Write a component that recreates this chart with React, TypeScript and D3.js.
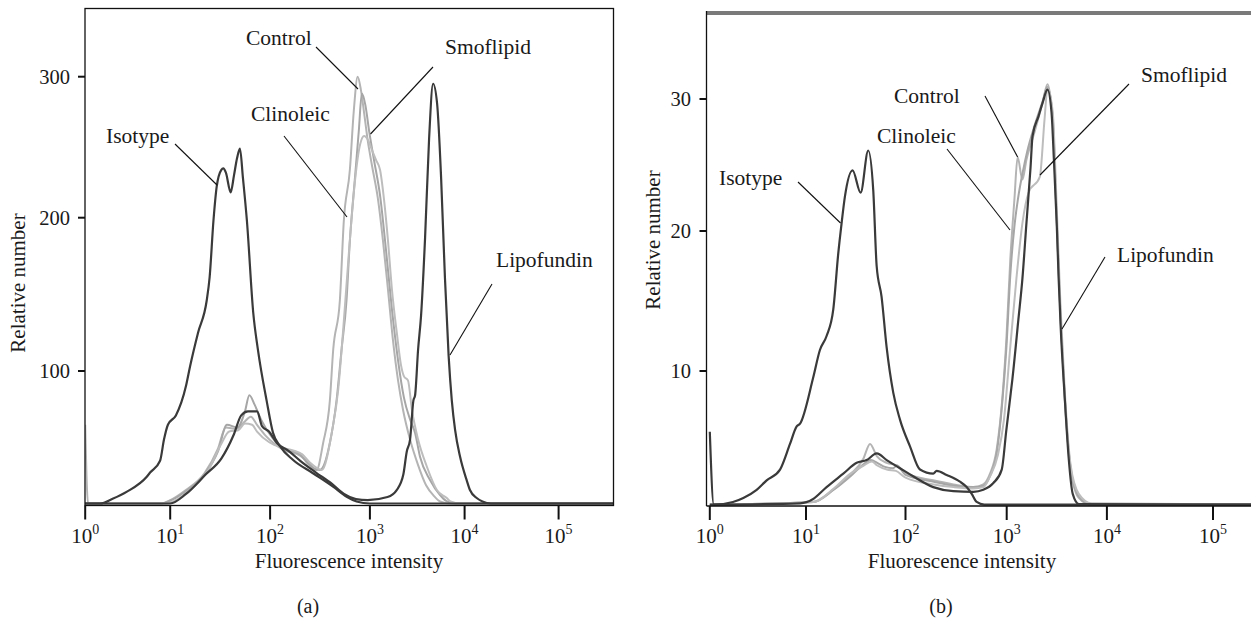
import React from "react";
import * as d3 from "d3";

type P = [number, number];

// ---------- Panel (a) data: [fluorescence intensity, relative number] ----------
const aIsotype: P[] = [[1,1.5],[1.5,1.5],[2.1,5],[3.1,10.3],[5.3,21.4],[5.8,24.5],[7.6,33.3],[8.45,49],[9.4,60],[11.4,67],[14.4,89],[15.8,103],[19,125],[23.2,146],[24.8,161],[27.1,198],[29.2,222],[32.5,234],[34,235],[36.1,232],[40.3,218],[43.5,230],[46.6,242],[49.9,249],[53.5,228],[58.6,198],[67.8,138],[75.5,114],[92.3,78],[107,54],[126,44],[169,34],[269,24],[427,14],[585,6.5],[736,3],[1000,1.5],[380000,1.5]];
const aLipofundin: P[] = [[1,1.5],[10,1.5],[14.4,8.6],[22.6,23],[32.6,35],[42.9,52],[51.4,67],[60,70],[74,70],[83,59],[97.5,55],[117,46.5],[154,40.5],[202,33],[288,24.5],[417,16],[550,8.6],[724,4.8],[950,4],[1535,6.3],[1918,11.5],[2254,23],[2449,40],[2655,49],[2878,78],[3000,82],[3228,114],[3468,136],[3826,187],[4217,256],[4648,295],[5124,281],[5651,228],[6198,161],[6780,110],[7328,78],[7943,56],[8974,36],[10500,19],[11400,11.5],[13450,5.6],[15500,3],[19000,1.5],[380000,1.5]];
const aControl: P[] = [[1,60],[1.08,1.5],[8,1.5],[10,4],[14,11],[22,24],[30,42],[36,58],[46,57],[55,62],[64,66],[74,60],[90,52],[110,46],[140,41],[200,37],[240,32],[292,26.4],[340,46.5],[397,78],[429,114],[500,146],[548,198],[630,234],[690,276],[754,300],[811,291],[869,276],[950,255],[1052,237],[1218,213],[1374,185],[1552,153],[1753,120],[1982,93],[2240,71],[2655,49],[3228,30],[3920,15],[4762,7],[5508,3],[7000,1.5],[380000,1.5]];
const aClinoleic: P[] = [[1,1.5],[8,1.5],[10,3.5],[14,10],[22,23],[30,40],[37,60],[47,58],[56,70],[62,82],[70,75],[81,64],[106,50],[140,42],[175,40],[200,38],[240,31],[315,26.4],[397,46.5],[463,78],[520,114],[583,146],[630,185],[706,227],[775,262],[830,288],[900,280],[980,262],[1104,241],[1279,216],[1479,179],[1710,140],[1982,107],[2291,80],[2655,64],[3000,54],[3388,36],[4315,19],[5508,7.8],[6368,3.5],[8000,1.5],[380000,1.5]];
const aSmoflipid: P[] = [[1,1.5],[9,1.5],[12,5],[16,12],[24,26],[32,45],[39,55],[48,56],[56,61],[66,60],[74,55],[98,47],[130,43],[170,41],[210,38],[250,32],[330,26.4],[419,56],[481,86],[540,127],[619,179],[711,227],[798,252],[875,258],[960,255],[1052,248],[1159,241],[1279,234],[1409,213],[1552,185],[1710,153],[1932,124],[2128,104],[2291,96],[2523,93],[2780,71],[3228,49],[3990,29],[5093,11.5],[6486,5.6],[7100,3],[9000,1.5],[380000,1.5]];

// ---------- Panel (b) data ----------
const bIsotype: P[] = [[1,5.5],[1.1,0.1],[1.74,0.3],[2.23,0.6],[3.07,1.2],[3.9,1.9],[5.37,2.7],[6.82,4.6],[8,5.9],[8.67,6.1],[11.8,9.5],[13.8,11.5],[16.1,12.5],[18.8,14.4],[21.1,18.4],[22.8,20.6],[24.6,22.6],[29.4,24.6],[35.4,22.9],[42.2,26.1],[47.4,23.1],[51.3,17.5],[57.5,15.3],[64.6,11.7],[75.3,8.4],[88,6.4],[111,4.4],[139,2.7],[188,2.4],[203,2.6],[255,2.3],[345,1.8],[402,1.4],[451,0.9],[505,0.3],[600,0.1],[240000,0.1]];
const bLipofundin: P[] = [[1,0.1],[8.7,0.2],[11.7,0.5],[16.1,1.4],[23.7,2.4],[32.3,3.2],[40.7,3.4],[51.4,3.9],[64.7,3.4],[88,2.8],[119,2.2],[188,1.4],[297,1.1],[468,1.05],[587,1.2],[738,1.7],[893,2.7],[991,5.6],[1079,7.9],[1140,9.4],[1309,13.7],[1435,16.6],[1574,20.6],[1729,24.8],[1811,27.2],[2080,28.7],[2280,29.7],[2553,30.7],[2800,29],[2958,25.4],[3155,20.6],[3300,16.6],[3454,13.2],[3796,8],[4160,3.5],[4560,0.9],[5240,0.15],[240000,0.1]];
const bControl: P[] = [[1,0.1],[11.7,0.3],[18.7,1.2],[27.7,2.3],[37.7,3.5],[44,4.6],[51.4,3.7],[64.7,3.2],[81.5,3.0],[103,2.4],[188,1.9],[297,1.6],[468,1.4],[587,1.6],[684,2.4],[796,4.2],[906,8],[993,12.3],[1087,18],[1194,22.4],[1285,25.6],[1435,23.9],[1574,25.4],[1897,27.5],[2280,29.7],[2553,31.1],[2877,28.4],[3155,20.9],[3454,13.7],[3796,8],[4355,2.7],[5240,0.6],[6920,0.1],[240000,0.1]];
const bClinoleic: P[] = [[1,0.1],[12,0.3],[19,1.2],[28,2.2],[38,3.1],[45,3.4],[52,3.2],[62,2.9],[75,2.8],[82,3.0],[100,2.3],[190,1.8],[300,1.5],[470,1.4],[590,1.5],[690,2.3],[800,4.0],[900,7.5],[990,11.5],[1090,17],[1200,20.5],[1300,22.5],[1450,24.5],[1600,26],[1900,28],[2280,29.8],[2550,30.9],[2880,28.6],[3150,21],[3450,13.8],[3800,8],[4350,2.8],[5240,0.7],[7000,0.1],[240000,0.1]];
const bSmoflipid: P[] = [[1,0.1],[12,0.3],[19,1.3],[28,2.4],[38,3.0],[46,3.3],[52,3.0],[65,2.7],[80,2.6],[100,2.1],[190,1.6],[300,1.4],[470,1.3],[590,1.4],[684,2.2],[820,3.8],[940,6.4],[1079,11.5],[1250,16.6],[1435,20.6],[1653,22.9],[2140,24.1],[2388,28.5],[2553,30.8],[2880,29],[3150,22],[3450,14.5],[3800,8.5],[4350,3],[5240,0.9],[7000,0.2],[240000,0.1]];

// ---------- Axis ticks ----------
const xTickExps = [0, 1, 2, 3, 4, 5];
const xTickValues = [1, 10, 100, 1000, 10000, 100000];
const aYTicks = [100, 200, 300];
const bYTicks = [10, 20, 30];

const FONT = "'Liberation Serif', 'Times New Roman', serif";
const DARK = "#3a3a3a";
const GRAYS = ["#b4b4b4", "#a6a6a6", "#bdbdbd"];

type Note = { text: string; tx: number; ty: number; x1: number; y1: number; x2: number; y2: number };

function Panel(props: {
  xDomain: number[]; xRange: number[];
  yDomain: number[]; yRange: number[];
  left: number; top: number; right: number; bottom: number;
  yTicks: number[]; series: { d: P[]; c: string; w: number }[];
  notes: Note[]; tickLabelRight: number; yLabelX: number; yLabelY: number;
  xLabelX: number; letter: string; letterX: number; boxed: boolean; id: string;
}) {
  const x = d3.scaleLog().domain(props.xDomain).range(props.xRange);
  const y = d3.scaleLinear().domain(props.yDomain).range(props.yRange);
  const line = d3.line<P>().x(d => x(d[0])).y(d => y(d[1])).curve(d3.curveMonotoneX);
  const { left, top, right, bottom } = props;
  return (
    <g fontFamily={FONT} fill="#1a1a1a">
      <defs>
        <clipPath id={props.id}>
          <rect x={left} y={top} width={right - left} height={bottom - top} />
        </clipPath>
      </defs>
      <g clipPath={`url(#${props.id})`}>
        {props.series.map((s, i) => (
          <path key={i} d={line(s.d) || ""} fill="none" stroke={s.c} strokeWidth={s.w} strokeLinejoin="round" />
        ))}
      </g>
      {props.boxed ? (
        <rect x={left} y={top} width={right - left} height={bottom - top} fill="none" stroke="#111" strokeWidth={1.3} />
      ) : (
        <g>
          <rect x={left} y={top} width={right - left} height={4} fill="#7a7a7a" />
          <line x1={left} x2={left} y1={top} y2={bottom} stroke="#111" strokeWidth={1.3} />
          <line x1={left} x2={right} y1={bottom} y2={bottom} stroke="#111" strokeWidth={1.3} />
        </g>
      )}
      {xTickValues.map((v, i) => (
        <g key={i}>
          <line x1={x(v)} x2={x(v)} y1={bottom} y2={bottom + 14} stroke="#111" strokeWidth={2} />
          <text x={x(v)} y={bottom + 37} textAnchor="middle" fontSize={21}>
            <tspan>10</tspan>
            <tspan dy={-9} fontSize={14}>{xTickExps[i]}</tspan>
          </text>
        </g>
      ))}
      {props.yTicks.map((v, i) => (
        <g key={i}>
          <line x1={left - 7} x2={left} y1={y(v)} y2={y(v)} stroke="#111" strokeWidth={2} />
          <text x={props.tickLabelRight} y={y(v)} dominantBaseline="central" textAnchor="end" fontSize={20.5}>{v}</text>
        </g>
      ))}
      <text transform={`translate(${props.yLabelX},${props.yLabelY}) rotate(-90)`} textAnchor="middle" dominantBaseline="central" fontSize={21}>Relative number</text>
      <text x={props.xLabelX} y={bottom + 62} textAnchor="middle" fontSize={21}>Fluorescence intensity</text>
      <text x={props.letterX} y={bottom + 107} textAnchor="middle" fontSize={20}>{props.letter}</text>
      {props.notes.map((n, i) => (
        <g key={i}>
          <line x1={n.x1} y1={n.y1} x2={n.x2} y2={n.y2} stroke="#111" strokeWidth={1.1} />
          <text x={n.tx} y={n.ty} dominantBaseline="central" fontSize={21.5}>{n.text}</text>
        </g>
      ))}
    </g>
  );
}

export default function App() {
  const aNotes: Note[] = [
    { text: "Control", tx: 246, ty: 38, x1: 316, y1: 47, x2: 358, y2: 89 },
    { text: "Smoflipid", tx: 445, ty: 47, x1: 433, y1: 67, x2: 370.5, y2: 134 },
    { text: "Clinoleic", tx: 251, ty: 114, x1: 284, y1: 136, x2: 347, y2: 217 },
    { text: "Isotype", tx: 106, ty: 136, x1: 175, y1: 144, x2: 217, y2: 185 },
    { text: "Lipofundin", tx: 496, ty: 260, x1: 492, y1: 284, x2: 450, y2: 355 },
  ];
  const bNotes: Note[] = [
    { text: "Control", tx: 894, ty: 96, x1: 985, y1: 96, x2: 1017.6, y2: 157 },
    { text: "Clinoleic", tx: 877, ty: 136, x1: 947, y1: 149, x2: 1010, y2: 230 },
    { text: "Smoflipid", tx: 1141, ty: 75, x1: 1129, y1: 84, x2: 1040, y2: 175 },
    { text: "Isotype", tx: 719, ty: 178, x1: 798, y1: 182, x2: 840.5, y2: 223 },
    { text: "Lipofundin", tx: 1117, ty: 255, x1: 1105, y1: 257, x2: 1062, y2: 329 },
  ];
  return (
    <svg width={1251} height={623} style={{ position: "absolute", left: 0, top: 0, background: "#fff" }}>
      <rect x={0} y={0} width={1251} height={623} fill="#fff" />
      <Panel
        id="clipA"
        xDomain={[1, 10, 100, 1e3, 1e4, 1e5, 3.8e5]}
        xRange={[85.2, 170.2, 270.1, 369.9, 464.6, 558.6, 613.5]}
        yDomain={[0, 100, 200, 300, 345]}
        yRange={[505.5, 371, 217.7, 76.7, 8.5]}
        left={85} top={8.5} right={613.5} bottom={505.5}
        yTicks={aYTicks}
        series={[
          { d: aControl, c: GRAYS[0], w: 2 },
          { d: aClinoleic, c: GRAYS[1], w: 2 },
          { d: aSmoflipid, c: GRAYS[2], w: 2 },
          { d: aIsotype, c: DARK, w: 2.2 },
          { d: aLipofundin, c: DARK, w: 2.2 },
        ]}
        notes={aNotes}
        tickLabelRight={70} yLabelX={18} yLabelY={283}
        xLabelX={349} letter="(a)" letterX={308} boxed={true}
      />
      <Panel
        id="clipB"
        xDomain={[1, 10, 100, 1e3, 1e4, 1e5, 2.4e5]}
        xRange={[709.8, 806, 905.5, 1006.7, 1106.9, 1213, 1251]}
        yDomain={[0, 10, 20, 30, 36.6]}
        yRange={[506, 371, 231, 99, 11]}
        left={706.5} top={11} right={1251} bottom={506}
        yTicks={bYTicks}
        series={[
          { d: bControl, c: GRAYS[0], w: 2 },
          { d: bClinoleic, c: GRAYS[1], w: 2 },
          { d: bSmoflipid, c: GRAYS[2], w: 2 },
          { d: bIsotype, c: DARK, w: 2.2 },
          { d: bLipofundin, c: DARK, w: 2.2 },
        ]}
        notes={bNotes}
        tickLabelRight={691} yLabelX={653} yLabelY={240}
        xLabelX={962} letter="(b)" letterX={941} boxed={false}
      />
    </svg>
  );
}
